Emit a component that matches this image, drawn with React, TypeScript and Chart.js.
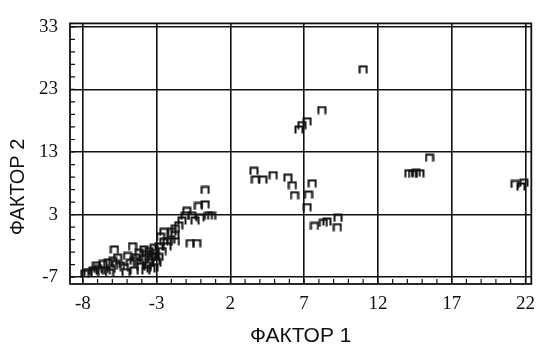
import React, { useEffect, useRef } from "react";
import { Chart, registerables } from "chart.js";

Chart.register(...registerables);

// Tick labels
const xTickValues = [-8, -3, 2, 7, 12, 17, 22];
const yTickValues = [-7, 3, 13, 23, 33];
const xTitle = "ФАКТОР 1";
const yTitle = "ФАКТОР 2";

// Main dense group (lower left)
const clusterX = [
  -7.87, -7.65, -7.31, -7.08, -6.98, -6.75, -6.64, -6.41, -6.31, -6.08,
  -5.97, -5.74, -5.64, -5.86, -5.19, -5.07, -4.97, -4.63, -4.18, -3.85,
  -3.51, -3.18, -2.84, -4.4, -4.18, -3.85, -3.51, -3.31, -3.04, -3.73,
  -3.18, -4.05, -4.52, -3.51, -2.84, -2.62, -2.29, -1.73, -2.51, -2.73,
  -1.97, -1.75, -1.73, -1.5, -1.28, -1.06, -0.61, -0.05, 0.51, -0.95,
  -0.16, 0.29, 0.29, -0.72, -0.28, -0.39, 0.73, -2.29, -2.04, -2.51,
  -3.18, -3.71, -4.78, -5.45, -6.19, -7.2, -4.52, -3.65, -3.38, -2.98,
  -3.11,
];
const clusterY = [
  -6.43, -6.18, -5.92, -5.15, -5.66, -5.92, -4.88, -5.92, -4.64, -5.66,
  -4.37, -4.88, -3.86, -2.57, -5.41, -6.18, -3.6, -2.06, -3.09, -2.57,
  -2.83, -2.32, -2.06, -3.86, -4.68, -4.07, -4.68, -3.76, -4.37, -5.92,
  -5.41, -5.3, -5.92, -3.76, -3.76, -2.83, -1.29, -1.29, 0.26, -0.51,
  0.26, -0.25, 0.77, 1.29, 2.07, 2.84, 2.84, 2.58, 2.84, 3.61,
  4.38, 4.63, 6.95, -1.55, -1.55, 2.07, 2.84, -2.06, -0.98, -1.29,
  -3.14, -3.29, -4.68, -5.15, -6.23, -6.23, -4.37, -5.15, -5.61, -4.68,
  -3.6,
];

// Middle group
const middleX = [
  11.0, 8.2, 7.2, 6.85, 6.65, 3.6, 3.7, 4.2, 4.9, 5.9,
  6.2, 6.35, 7.55, 7.3, 7.2, 7.7, 8.3, 8.55, 9.3, 9.25,
];
const middleY = [
  26.2, 19.7, 17.9, 17.3, 16.6, 10.0, 8.6, 8.6, 9.3, 8.9,
  7.7, 6.1, 8.0, 6.2, 4.2, 1.2, 1.7, 1.9, 2.5, 1.0,
];

// Right group
const rightX = [15.5, 14.1, 14.35, 14.6, 14.85, 21.3, 21.9, 21.7];
const rightY = [12.1, 9.6, 9.5, 9.7, 9.6, 7.9, 8.1, 7.5];

const allX = [...clusterX, ...middleX, ...rightX];
const allY = [...clusterY, ...middleY, ...rightY];

function makeMarker(): HTMLCanvasElement {
  const c = document.createElement("canvas");
  c.width = 10;
  c.height = 9;
  const g = c.getContext("2d")!;
  g.strokeStyle = "#111";
  g.lineWidth = 2;
  g.beginPath();
  g.moveTo(1.5, 8.5);
  g.lineTo(1.5, 1.5);
  g.lineTo(8.5, 1.5);
  g.lineTo(8.5, 8.5);
  g.stroke();
  return c;
}

const framePlugin = {
  id: "frame",
  afterDatasetsDraw(chart: any) {
    const { ctx, chartArea } = chart;
    const { left, right, top, bottom } = chartArea;
    const xs = chart.scales.x;
    const ys = chart.scales.y;
    ctx.save();
    ctx.strokeStyle = "#111";
    ctx.lineWidth = 1.8;
    ctx.strokeRect(left, top, right - left, bottom - top);
    ctx.lineWidth = 1.2;
    ctx.beginPath();
    for (let v = -8; v <= 22; v += 1) {
      const px = xs.getPixelForValue(v);
      ctx.moveTo(px, bottom);
      ctx.lineTo(px, bottom - 5);
    }
    for (let v = -7; v <= 33; v += 2) {
      const py = ys.getPixelForValue(v);
      ctx.moveTo(left, py);
      ctx.lineTo(left + 5, py);
    }
    ctx.stroke();
    // vertical axis title
    ctx.fillStyle = "#111";
    ctx.font = "20px 'Liberation Sans', Arial, sans-serif";
    ctx.textAlign = "center";
    ctx.textBaseline = "middle";
    ctx.translate(18, 187);
    ctx.rotate(-Math.PI / 2);
    ctx.fillText(yTitle, 0, 0);
    ctx.restore();
  },
};

export default function App() {
  const ref = useRef<HTMLCanvasElement>(null);
  useEffect(() => {
    const marker = makeMarker();
    const data = allX.map((x, i) => ({ x, y: allY[i] }));
    const tickFont = { family: "'Liberation Serif', 'Times New Roman', serif", size: 19 };
    const chart = new Chart(ref.current!, {
      type: "scatter",
      data: {
        datasets: [
          {
            data,
            pointStyle: marker as any,
            pointRadius: 5,
            borderColor: "#111",
            backgroundColor: "transparent",
          },
        ],
      },
      plugins: [framePlugin],
      options: {
        animation: false,
        responsive: false,
        devicePixelRatio: 1,
        layout: { padding: { top: 14, right: 7, left: 0, bottom: 0 } },
        plugins: { legend: { display: false }, tooltip: { enabled: false } },
        scales: {
          x: {
            type: "linear",
            min: -8.87,
            max: 22.4,
            afterBuildTicks: (s: any) => {
              s.ticks = xTickValues.map((v) => ({ value: v }));
            },
            afterFit: (s: any) => {
              s.height = 65;
            },
            grid: { color: "#111", lineWidth: 1.6, drawTicks: false },
            border: { display: false },
            ticks: { color: "#111", font: tickFont, padding: 9, maxRotation: 0, autoSkip: false },
            title: {
              display: true,
              text: xTitle,
              color: "#111",
              font: { family: "'Liberation Sans', Arial, sans-serif", size: 21 },
              padding: { top: 0, bottom: 0 },
            },
          },
          y: {
            type: "linear",
            min: -8.08,
            max: 33.54,
            afterBuildTicks: (s: any) => {
              s.ticks = yTickValues.map((v) => ({ value: v }));
            },
            afterFit: (s: any) => {
              s.width = 70;
            },
            grid: { color: "#111", lineWidth: 1.6, drawTicks: false },
            border: { display: false },
            ticks: { color: "#111", font: tickFont, padding: 12, autoSkip: false },
          },
        },
      },
    });
    return () => chart.destroy();
  }, []);
  return (
    <div style={{ position: "fixed", left: 0, top: 0, width: 544, height: 349, background: "#fff" }}>
      <canvas ref={ref} width={544} height={349} style={{ width: 544, height: 349 }} />
    </div>
  );
}
